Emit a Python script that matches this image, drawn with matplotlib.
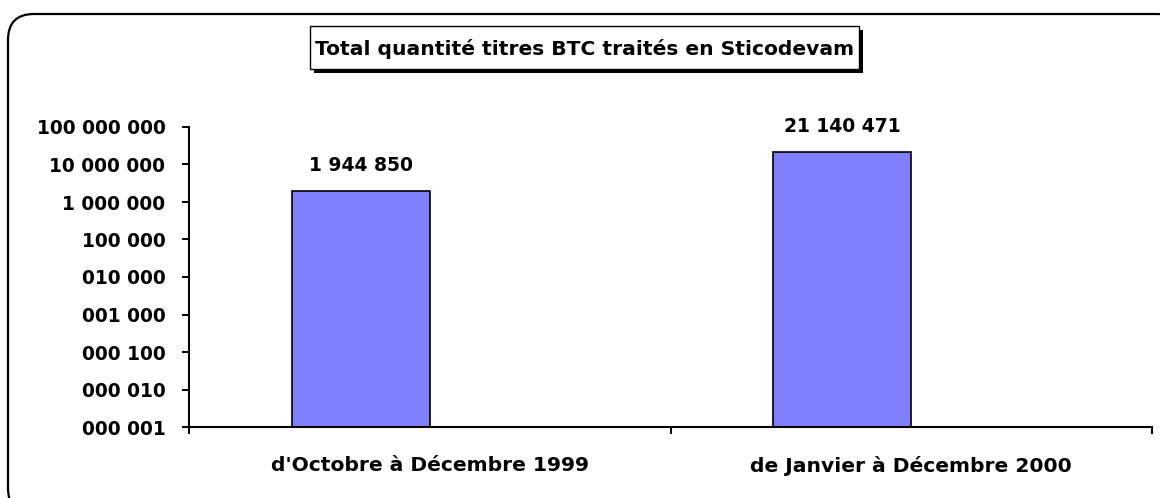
import matplotlib
matplotlib.use("Agg")
import matplotlib.pyplot as plt
from matplotlib.patches import FancyBboxPatch, Rectangle

# data
categories = ["d'Octobre à Décembre 1999", "de Janvier à Décembre 2000"]
values = [1944850, 21140471]
ytick_vals = [1, 10, 100, 1000, 10000, 100000, 1000000, 10000000, 100000000]
ytick_labels = ["000 001", "000 010", "000 100", "001 000", "010 000",
                "100 000", "1 000 000", "10 000 000", "100 000 000"]
title = "Total quantité titres BTC traités en Sticodevam"

W, H = 1160, 498
fig = plt.figure(figsize=(W / 100, H / 100), dpi=100)
plt.rcParams["font.family"] = "DejaVu Sans"

# background layer in pixel coords: rounded frame + title box
bg = fig.add_axes([0, 0, 1, 1], zorder=0)
bg.set_xlim(0, W); bg.set_ylim(H, 0); bg.axis("off")
bg.add_patch(FancyBboxPatch((8, 14), 1175, 500, boxstyle="round,pad=0,rounding_size=26",
                            facecolor="white", edgecolor="black", lw=1.6))
tx0, ty0, tw, th = 310, 26, 549, 43
bg.add_patch(Rectangle((tx0 + 4, ty0 + 4), tw, th, facecolor="black", edgecolor="black", lw=0))
bg.add_patch(Rectangle((tx0, ty0), tw, th, facecolor="white", edgecolor="black", lw=1.0))
bg.text(tx0 + tw / 2, ty0 + th / 2 + 1, title, ha="center", va="center",
        fontsize=14.6, fontweight="bold")

# main plot
ax_l, ax_r, ax_t, ax_b = 189, 1152, 127, 427
ax = fig.add_axes([ax_l / W, (H - ax_b) / H, (ax_r - ax_l) / W, (ax_b - ax_t) / H], zorder=1)
ax.patch.set_alpha(0)

xpos = [i + 0.357 for i in range(len(categories))]
ax.bar(xpos, values, width=0.287, color="#8080ff", edgecolor="black", lw=1.2)
ax.set_yscale("log")
ax.set_ylim(1, 1e8)
ax.set_xlim(0, len(categories))

for x, v in zip(xpos, values):
    ax.annotate(f"{v:,}".replace(",", " "), (x, v), xytext=(0, 18.5), textcoords="offset points",
                ha="center", va="center", fontsize=13.5, fontweight="bold")

ax.set_yticks(ytick_vals)
ax.set_yticklabels(ytick_labels)
ax.yaxis.set_minor_locator(matplotlib.ticker.NullLocator())
ax.set_xticks(range(len(categories) + 1))
ax.set_xticklabels([])
ax.set_xticks([i + 0.5 for i in range(len(categories))], minor=True)
ax.set_xticklabels(categories, minor=True)
ax.tick_params(axis="x", which="minor", length=0, pad=21, labelsize=14.6)
ax.tick_params(axis="x", which="major", direction="out", length=5, width=1.4)
ax.tick_params(axis="y", which="major", direction="out", length=5, width=1.4, labelsize=13.4, pad=12)
for lbl in ax.get_xticklabels(minor=True) + ax.get_yticklabels():
    lbl.set_fontweight("bold")

for s in ("top", "right"):
    ax.spines[s].set_visible(False)
for s in ("left", "bottom"):
    ax.spines[s].set_linewidth(1.5)

fig.savefig("out.png", dpi=100)
